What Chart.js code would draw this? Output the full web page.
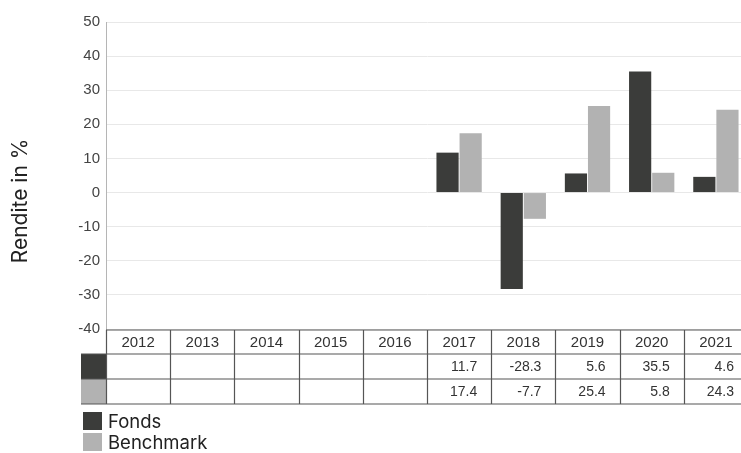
<!DOCTYPE html>
<html>
<head>
<meta charset="utf-8">
<script src="https://cdn.jsdelivr.net/npm/chart.js@4/dist/chart.umd.min.js"></script>
<style>
html,body{margin:0;padding:0;background:#fff;overflow:hidden;}
#wrap{width:741px;height:453px;position:relative;overflow:hidden;}
</style>
</head>
<body>
<div id="wrap"><canvas id="c" width="748" height="453"></canvas></div>
<script>
const categories = ['2012','2013','2014','2015','2016','2017','2018','2019','2020','2021'];
const fondsValues = [null,null,null,null,null,11.7,-28.3,5.6,35.5,4.6];
const benchmarkValues = [null,null,null,null,null,17.4,-7.7,25.4,5.8,24.3];
const seriesNames = ['Fonds','Benchmark'];
const yTitle = 'Rendite in %';

const tablePlugin = {
  id: 'tablePlugin',
  afterDraw(chart) {
    const ctx = chart.ctx;
    const x = chart.scales.x;
    const area = chart.chartArea;
    const n = categories.length;
    const colW = (area.right - area.left) / n;
    const top = area.bottom + 1;
    const rowH = [24, 25, 25];
    const y0 = top, y1 = y0 + rowH[0], y2 = y1 + rowH[1], y3 = y2 + rowH[2];
    const keyL = area.left - 25;
    ctx.save();
    chart.data.datasets.forEach((ds, i) => {
      ctx.fillStyle = ds.backgroundColor;
      const yy = i === 0 ? y1 : y2;
      ctx.fillRect(keyL, yy, 25, (i === 0 ? y2 - y1 : y3 - y2));
    });
    ctx.strokeStyle = '#555';
    ctx.lineWidth = 1.2;
    ctx.beginPath();
    ctx.moveTo(area.left, y0); ctx.lineTo(area.right, y0);
    ctx.moveTo(keyL, y1); ctx.lineTo(area.right, y1);
    ctx.moveTo(keyL, y2); ctx.lineTo(area.right, y2);
    ctx.moveTo(keyL, y3); ctx.lineTo(area.right, y3);
    for (let i = 0; i < n; i++) {
      const cx = x.getPixelForValue(i);
      const l = Math.round(cx - colW / 2) + 0.5;
      ctx.moveTo(l, y0); ctx.lineTo(l, y3);
    }
    ctx.stroke();
    ctx.fillStyle = '#333';
    ctx.font = '15px "Liberation Sans", Arial, sans-serif';
    ctx.textAlign = 'center';
    ctx.textBaseline = 'middle';
    for (let i = 0; i < n; i++) {
      ctx.fillText(categories[i], x.getPixelForValue(i), (y0 + y1) / 2 + 1);
    }
    ctx.font = '14px "Liberation Sans", Arial, sans-serif';
    ctx.textAlign = 'right';
    chart.data.datasets.forEach((ds, d) => {
      const cy = d === 0 ? (y1 + y2) / 2 + 1 : (y2 + y3) / 2 + 1;
      ds.data.forEach((v, i) => {
        if (v === null || v === undefined) return;
        const r = x.getPixelForValue(i) + colW / 2 - 14;
        ctx.fillText(v.toFixed(1), r, cy);
      });
    });
    ctx.font = '18.5px Inter, "Noto Sans", sans-serif';
    ctx.textAlign = 'left';
    ctx.textBaseline = 'middle';
    chart.data.datasets.forEach((ds, i) => {
      const ly = 412 + i * 21;
      ctx.fillStyle = ds.backgroundColor;
      ctx.fillRect(83, ly, 19, 18);
      ctx.fillStyle = '#222';
      ctx.fillText(ds.label, 108, ly + 10);
    });
    ctx.translate(21, 201);
    ctx.rotate(-Math.PI / 2);
    ctx.textAlign = 'center';
    ctx.fillStyle = '#222';
    ctx.font = '21px Inter, "Noto Sans", sans-serif';
    ctx.fillText(yTitle, 0, 0);
    ctx.restore();
  }
};

new Chart(document.getElementById('c'), {
  type: 'bar',
  data: {
    labels: categories,
    datasets: [
      { label: seriesNames[0], data: fondsValues, backgroundColor: '#3b3c3a' },
      { label: seriesNames[1], data: benchmarkValues, backgroundColor: '#b2b2b2' }
    ]
  },
  options: {
    responsive: false,
    animation: false,
    devicePixelRatio: 1,
    categoryPercentage: 0.72,
    barPercentage: 0.96,
    layout: { padding: { left: 40, top: 22, right: 0, bottom: 124 } },
    plugins: { legend: { display: false }, tooltip: { enabled: false } },
    scales: {
      x: { display: false },
      y: {
        min: -40, max: 50,
        afterFit(s) { s.width = 66; },
        ticks: { stepSize: 10, padding: 6, color: '#444', font: { family: '"Liberation Sans", Arial, sans-serif', size: 15 } },
        grid: { color: '#e8e8e8', drawTicks: false },
        border: { color: '#b5b5b5', width: 1 }
      }
    }
  },
  plugins: [tablePlugin]
});
</script>
</body>
</html>
